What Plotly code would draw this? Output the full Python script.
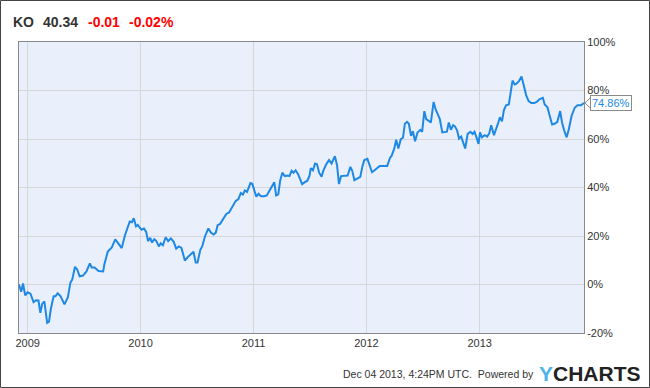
import plotly.graph_objects as go

# ---- data ----
dates = [
    "2008-12-04", "2008-12-11", "2008-12-17", "2008-12-24", "2009-01-01", "2009-01-10",
    "2009-01-20", "2009-01-28", "2009-02-05", "2009-02-11", "2009-02-17", "2009-02-24",
    "2009-03-05", "2009-03-11", "2009-03-17", "2009-03-26", "2009-04-01", "2009-04-08",
    "2009-04-17", "2009-04-30", "2009-05-11", "2009-05-19", "2009-05-25", "2009-06-03",
    "2009-06-10", "2009-06-18", "2009-06-29", "2009-07-10", "2009-07-21", "2009-07-27",
    "2009-08-05", "2009-08-18", "2009-09-02", "2009-09-06", "2009-09-17", "2009-09-30",
    "2009-10-11", "2009-10-21", "2009-11-01", "2009-11-12", "2009-11-19", "2009-11-27",
    "2009-12-04", "2009-12-10", "2009-12-17", "2009-12-23", "2009-12-30",
    "2010-01-04", "2010-01-12", "2010-01-19", "2010-01-25", "2010-02-01", "2010-02-07",
    "2010-02-14", "2010-02-20", "2010-03-01", "2010-03-07", "2010-03-14", "2010-03-23",
    "2010-03-31", "2010-04-09", "2010-04-18", "2010-04-26", "2010-05-05", "2010-05-13",
    "2010-05-24", "2010-06-04", "2010-06-13", "2010-06-21", "2010-06-28", "2010-07-04",
    "2010-07-13", "2010-07-19", "2010-07-28", "2010-08-08", "2010-08-16", "2010-08-25",
    "2010-09-01", "2010-09-07", "2010-09-15", "2010-09-24", "2010-10-05", "2010-10-14",
    "2010-10-24", "2010-11-04", "2010-11-13", "2010-11-21", "2010-11-28", "2010-12-04",
    "2010-12-11", "2010-12-22", "2010-12-28",
    "2011-01-04", "2011-01-10", "2011-01-17", "2011-01-25", "2011-02-04", "2011-02-13",
    "2011-02-21", "2011-03-02", "2011-03-09", "2011-03-15", "2011-03-22", "2011-03-28",
    "2011-04-04", "2011-04-12", "2011-04-21", "2011-04-27", "2011-05-04", "2011-05-10",
    "2011-05-17", "2011-05-25", "2011-06-01", "2011-06-07", "2011-06-16", "2011-06-24",
    "2011-07-01", "2011-07-05", "2011-07-12", "2011-07-19", "2011-07-25", "2011-08-01",
    "2011-08-09", "2011-08-15", "2011-08-24", "2011-09-02", "2011-09-10", "2011-09-15",
    "2011-09-21", "2011-09-28", "2011-10-04", "2011-10-11", "2011-10-21", "2011-11-01",
    "2011-11-10", "2011-11-16", "2011-11-23", "2011-12-02", "2011-12-12", "2011-12-19",
    "2011-12-25",
    "2012-01-04", "2012-01-10", "2012-01-19", "2012-01-27", "2012-02-13", "2012-02-25",
    "2012-03-08", "2012-03-17", "2012-03-22", "2012-03-31", "2012-04-06", "2012-04-13",
    "2012-04-21", "2012-04-28", "2012-05-04", "2012-05-11", "2012-05-17", "2012-05-24",
    "2012-05-30", "2012-06-06", "2012-06-14", "2012-06-23", "2012-06-29", "2012-07-06",
    "2012-07-12", "2012-07-19", "2012-07-27", "2012-08-05", "2012-08-12", "2012-08-18",
    "2012-08-25", "2012-09-02", "2012-09-10", "2012-09-17", "2012-09-23", "2012-09-30",
    "2012-10-07", "2012-10-13", "2012-10-20", "2012-10-26", "2012-11-02", "2012-11-08",
    "2012-11-15", "2012-11-23", "2012-12-02", "2012-12-09", "2012-12-15", "2012-12-22",
    "2012-12-28",
    "2013-01-02", "2013-01-08", "2013-01-17", "2013-01-25", "2013-02-01", "2013-02-07",
    "2013-02-16", "2013-02-22", "2013-03-03", "2013-03-07", "2013-03-14", "2013-03-20",
    "2013-03-27", "2013-04-05", "2013-04-13", "2013-04-17", "2013-04-24", "2013-04-30",
    "2013-05-09", "2013-05-16", "2013-05-22", "2013-05-31", "2013-06-08", "2013-06-17",
    "2013-06-26", "2013-07-04", "2013-07-13", "2013-07-24", "2013-07-30", "2013-08-08",
    "2013-08-14", "2013-08-23", "2013-08-31", "2013-09-09", "2013-09-18", "2013-09-24",
    "2013-10-01", "2013-10-09", "2013-10-16", "2013-10-25", "2013-11-04", "2013-11-13",
    "2013-11-24", "2013-12-02", "2013-12-04",
]
pct_change = [
    0.0, -3.0, 0.4, -4.5, -3.2, -3.8,
    -7.3, -6.5, -6.6, -11.7, -8.0, -7.0,
    -15.8, -15.3, -10.0, -4.8, -4.8, -3.6,
    -4.8, -8.2, -5.2, 0.7, 2.0, 7.3,
    6.2, 3.4, 3.7, 5.4, 8.7, 7.0,
    7.0, 5.6, 5.4, 8.4, 13.6, 15.3,
    18.6, 16.9, 15.0, 20.5, 23.2, 26.0,
    25.7, 27.3, 24.0, 24.6, 23.3,
    22.6, 23.1, 21.7, 17.9, 19.2, 17.3,
    18.7, 18.1, 15.7, 17.0, 16.2, 19.5,
    17.9, 19.0, 17.6, 14.8, 15.7, 15.1,
    9.9, 11.5, 12.4, 13.5, 9.1, 9.1,
    14.3, 15.7, 19.8, 23.1, 21.4, 20.6,
    21.4, 24.5, 25.0, 26.9, 29.1, 29.7,
    32.2, 34.4, 35.2, 37.7, 37.1, 38.8,
    38.2, 41.8, 41.5,
    38.5, 36.2, 37.4, 36.4, 36.4, 36.7,
    38.6, 40.8, 42.2, 36.7, 37.2, 42.8,
    46.1, 44.7, 44.9, 44.7, 46.9, 46.1,
    47.1, 45.5, 43.6, 41.4, 42.2, 42.8,
    44.9, 48.0, 47.1, 49.9, 49.6, 46.1,
    44.4, 47.1, 49.6, 51.3, 49.9, 51.0,
    52.9, 49.1, 41.4, 44.7, 44.7, 44.9,
    48.5, 46.9, 43.0, 43.6, 44.4, 48.8,
    51.3,
    51.8, 49.9, 46.3, 47.1, 48.9, 48.9,
    48.9, 52.2, 53.0, 56.1, 59.7, 56.1,
    59.9, 60.5, 66.3, 67.1, 66.3, 61.3,
    63.2, 59.1, 62.7, 63.8, 63.0, 71.5,
    68.2, 67.6, 66.8, 75.3, 72.0, 70.4,
    68.2, 62.7, 62.7, 63.0, 66.8, 63.8,
    65.7, 65.2, 63.5, 60.2, 61.0, 59.1,
    56.1, 62.1, 63.0, 62.1, 63.0, 60.5,
    58.0,
    62.7, 60.7, 61.6, 61.0, 62.4, 65.7,
    61.6, 63.5, 67.1, 69.0, 67.3, 71.8,
    73.9, 74.2, 79.7, 84.1, 82.5, 82.8,
    84.1, 85.8, 82.8, 78.1, 75.6, 74.8,
    74.8, 75.3, 76.4, 77.0, 74.2, 73.1,
    70.1, 66.0, 66.3, 67.1, 71.5, 66.8,
    63.5, 60.7, 64.0, 69.6, 72.9, 73.9,
    73.9, 74.6, 74.86,
]
y_ticks = [-20, 0, 20, 40, 60, 80, 100]
x_range = ["2008-12-04", "2013-12-04"]
ticker, price, change, change_pct = "KO", "40.34", "-0.01", "-0.02%"
last_label = "74.86%"
footer_text = "Dec 04 2013, 4:24PM UTC.  Powered by"

# ---- geometry helpers (pixels -> paper) ----
W, H = 650, 388
ML, MR, MT, MB = 19, 66, 42, 55
PW, PH = W - ML - MR, H - MT - MB


def px(xp):
    return (xp - ML) / PW


def py(yp):
    return (H - MB - yp) / PH


FONT = "Liberation Sans, Arial, sans-serif"
LINE_BLUE = "#1e88e5"

fig = go.Figure()
fig.add_trace(go.Scatter(
    x=dates, y=pct_change, mode="lines",
    line=dict(color=LINE_BLUE, width=2),
    hoverinfo="skip", showlegend=False,
))

fig.update_layout(
    width=W, height=H,
    margin=dict(l=ML, r=MR, t=MT, b=MB),
    paper_bgcolor="white",
    plot_bgcolor="#eaf0fb",
    font=dict(family=FONT, size=11, color="#333333"),
    showlegend=False,
)
fig.update_xaxes(
    type="date", range=x_range,
    tick0="2009-01-01", dtick="M12", tickformat="%Y",
    showgrid=True, gridcolor="#d6d6d6", gridwidth=1,
    showline=True, linecolor="#8a8a8a", linewidth=1, mirror=True,
    ticks="", tickfont=dict(size=11, color="#333333"),
    zeroline=False,
)
fig.update_yaxes(
    range=[-20, 100], tickvals=y_ticks,
    ticktext=[f"{v}%" for v in y_ticks],
    side="right",
    showgrid=True, gridcolor="#d6d6d6", gridwidth=1,
    showline=True, linecolor="#8a8a8a", linewidth=1, mirror=True,
    ticks="", tickfont=dict(size=11, color="#333333"),
    zeroline=False,
)

# header
hdr = [(10.5, ticker, "#333333"), (40.5, price, "#333333"),
       (86, change, "#ff0000"), (127, change_pct, "#ff0000")]
for xp, txt, col in hdr:
    fig.add_annotation(x=px(xp), y=py(22), xref="paper", yref="paper",
                       text=f"<b>{txt}</b>", showarrow=False,
                       xanchor="left", yanchor="middle",
                       font=dict(family=FONT, size=14, color=col))

# footer
fig.add_annotation(x=px(536), y=py(374), xref="paper", yref="paper",
                   text=footer_text, showarrow=False,
                   xanchor="right", yanchor="middle",
                   font=dict(family=FONT, size=10.5, color="#333333"))
fig.add_annotation(x=px(537), y=py(373), xref="paper", yref="paper",
                   text="<b><span style='color:#4fb3e8'>Y</span>CHARTS</b>",
                   showarrow=False, xanchor="left", yanchor="middle",
                   font=dict(family=FONT, size=21, color="#222222"))

# last value label
fig.add_annotation(x=px(590), y=pct_change[-1], xref="paper", yref="y",
                   text=last_label, showarrow=False,
                   xanchor="left", yanchor="middle",
                   bordercolor="#8a8a8a", borderwidth=1, borderpad=1,
                   bgcolor="white",
                   font=dict(family=FONT, size=11, color=LINE_BLUE))
fig.add_shape(type="path", xref="paper", yref="y",
              path=f"M {px(590.5)},{pct_change[-1] + 2.2} L {px(585)},{pct_change[-1]} L {px(590.5)},{pct_change[-1] - 2.2}",
              line=dict(color="#8a8a8a", width=1), layer="above")

# outer border
fig.add_shape(type="rect", xref="paper", yref="paper",
              x0=px(0.5), x1=px(W - 0.5), y0=py(H - 0.5), y1=py(0.5),
              line=dict(color="#444444", width=1), layer="above")

fig.write_html(
    "out.html",
    config={"displayModeBar": False},
    post_script="document.body.style.margin='0';document.body.style.overflow='hidden';",
)
